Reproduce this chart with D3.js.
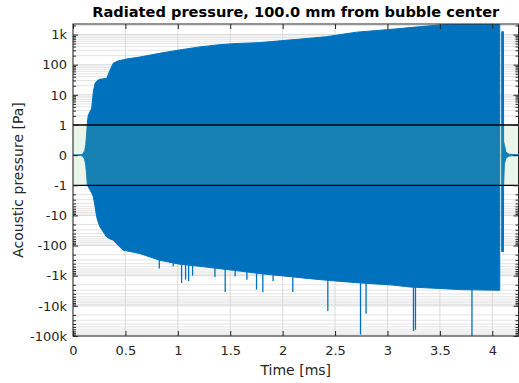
<!DOCTYPE html>
<html>
<head>
<meta charset="utf-8">
<script src="https://cdn.jsdelivr.net/npm/d3@7"></script>
<style>
  body { margin: 0; background: #fff; }
  text { font-family: "DejaVu Sans", sans-serif; }
</style>
</head>
<body>
<svg id="chart" width="519" height="383"></svg>
<script>
// envelope of the (very dense) pressure oscillation
// null marks the short silent gap before the last pulse
var envTime  = [0, 0.07, 0.095, 0.112, 0.122, 0.13, 0.137, 0.146, 0.178, 0.194, 0.21, 0.226, 0.241, 0.257,
                0.321, 0.353, 0.384, 0.432, 0.48, 0.512, 0.639, 0.829, 1.02, 1.211, 1.37, 1.528, 1.783,
                2.259, 2.418, 2.705, 3.053, 3.213, 3.499, 3.689, 4.071,
                4.08,
                4.09, 4.106, 4.108, 4.115, 4.13, 4.16, 4.25];
var envUpper = [0.005, 0.01, 0.04, 0.15, 0.35, 0.7, 1.2, 2.1, 3.6, 12.6, 24, 28, 31, 33,
                35, 66, 112, 135, 145, 155, 180, 240, 310, 390, 450, 500, 540,
                755, 850, 1200, 1510, 1700, 2090, 2300, 2400,
                null,
                1250, 1250, 0.45, 0.35, 0.1, 0.03, 0.01];
var envLower = [-0.005, -0.01, -0.04, -0.15, -0.35, -0.65, -1.0, -1.13, -1.8, -2.4, -5, -11.2, -17, -24,
                -52, -60, -66, -100, -144, -150, -185, -309, -417, -490, -570, -660, -850,
                -1250, -1410, -1700, -2050, -2370, -2650, -2890, -3050,
                null,
                -160, -160, -1.05, -0.3, -0.1, -0.03, -0.01];

// isolated negative spikes below the envelope
var spikeTime  = [0.823, 0.956, 1.036, 1.074, 1.103, 1.141, 1.354, 1.452, 1.547, 1.659, 1.751, 1.811,
                  1.909, 2.097, 2.431, 2.743, 2.796, 3.248, 3.267, 3.806];
var spikeValue = [-580, -490, -1740, -1350, -1510, -1000, -1100, -3470, -1050, -1350, -2880, -3470,
                  -1510, -3470, -14800, -89000, -18200, -69000, -62000, -120000];

var xTicks = [0, 0.5, 1, 1.5, 2, 2.5, 3, 3.5, 4];
var xTickLabels = ["0", "0.5", "1", "1.5", "2", "2.5", "3", "3.5", "4"];
var yTickValues = [1000, 100, 10, 1, 0, -1, -10, -100, -1000, -10000, -100000];
var yTickLabels = ["1k", "100", "10", "1", "0", "-1", "-10", "-100", "-1k", "-10k", "-100k"];

var titleText = "Radiated pressure, 100.0 mm from bubble center";
var xLabel = "Time [ms]";
var yLabel = "Acoustic pressure [Pa]";

// layout
var plotLeft = 73, plotRight = 518.5, plotTop = 24, plotBottom = 336;
var blue = "#0072bd";
var ink = "#262626";

var svg = d3.select("#chart");

// log outside [-1,1], linear inside
var tf = function (v) {
    return Math.abs(v) <= 1 ? v : Math.sign(v) * (1 + Math.log10(Math.abs(v)));
};

var x = d3.scaleLinear().domain([0, 4.25]).range([plotLeft, plotRight]);
var yT = d3.scaleLinear().domain([-6, 4.35]).range([plotBottom, plotTop]);
var y = function (v) { return yT(tf(v)); };

// minor tick values (2..9 per decade)
var minor = [];
for (var k = 0; k <= 4; k++) {
    for (var m = 2; m <= 9; m++) {
        var v = m * Math.pow(10, k);
        if (tf(v) < 4.35) minor.push(v);
        minor.push(-v);
    }
}

svg.append("defs").append("clipPath").attr("id", "clip")
    .append("rect")
    .attr("x", plotLeft).attr("y", plotTop)
    .attr("width", plotRight - plotLeft).attr("height", plotBottom - plotTop);

// grid
var grid = svg.append("g");
grid.selectAll(".gm").data(minor).enter().append("line")
    .attr("x1", plotLeft).attr("x2", plotRight)
    .attr("y1", function (d) { return y(d); })
    .attr("y2", function (d) { return y(d); })
    .attr("stroke", "#e4e4e4").attr("stroke-width", 1);
grid.selectAll(".gy").data(yTickValues).enter().append("line")
    .attr("x1", plotLeft).attr("x2", plotRight)
    .attr("y1", function (d) { return y(d); })
    .attr("y2", function (d) { return y(d); })
    .attr("stroke", "#dadada").attr("stroke-width", 1);
grid.selectAll(".gx").data(xTicks).enter().append("line")
    .attr("y1", plotTop).attr("y2", plotBottom)
    .attr("x1", function (d) { return x(d); })
    .attr("x2", function (d) { return x(d); })
    .attr("stroke", "#dadada").attr("stroke-width", 1);

var plot = svg.append("g").attr("clip-path", "url(#clip)");

var env = envTime.map(function (t, i) {
    return { t: t, hi: envUpper[i], lo: envLower[i] };
});

var area = d3.area()
    .defined(function (d) { return d.hi !== null; })
    .x(function (d) { return x(d.t); })
    .y0(function (d) { return y(d.lo); })
    .y1(function (d) { return y(d.hi); });

plot.append("path")
    .attr("d", area(env))
    .attr("fill", blue)
    .attr("stroke", blue)
    .attr("stroke-width", 1);

plot.selectAll(".spike").data(spikeTime).enter().append("line")
    .attr("x1", function (d) { return x(d); })
    .attr("x2", function (d) { return x(d); })
    .attr("y1", y(0))
    .attr("y2", function (d, i) { return y(spikeValue[i]); })
    .attr("stroke", blue).attr("stroke-width", 1.3);

// linear region band
plot.append("rect")
    .attr("x", plotLeft).attr("width", plotRight - plotLeft)
    .attr("y", y(1)).attr("height", y(-1) - y(1))
    .attr("fill", "rgb(128,204,128)").attr("fill-opacity", 0.17);

[1, -1].forEach(function (v) {
    plot.append("line")
        .attr("x1", plotLeft).attr("x2", plotRight)
        .attr("y1", y(v)).attr("y2", y(v))
        .attr("stroke", "#000").attr("stroke-width", 1.3);
});

// axes
var styleAxis = function (g) {
    g.select(".domain").remove();
    g.selectAll(".tick line").attr("stroke", ink);
    g.selectAll("text").attr("fill", ink).style("font-size", "13px");
};

svg.append("g").attr("transform", "translate(" + plotLeft + ",0)")
    .call(d3.axisLeft(yT).tickValues(yTickValues.map(tf)).tickSize(-5).tickPadding(6)
        .tickFormat(function (d, i) { return yTickLabels[i]; }))
    .call(styleAxis);
svg.append("g").attr("transform", "translate(" + plotRight + ",0)")
    .call(d3.axisRight(yT).tickValues(yTickValues.map(tf)).tickSize(-5).tickFormat(""))
    .call(styleAxis);
svg.append("g").attr("transform", "translate(" + plotLeft + ",0)")
    .call(d3.axisLeft(yT).tickValues(minor.map(tf)).tickSize(-3).tickFormat(""))
    .call(styleAxis);
svg.append("g").attr("transform", "translate(" + plotRight + ",0)")
    .call(d3.axisRight(yT).tickValues(minor.map(tf)).tickSize(-3).tickFormat(""))
    .call(styleAxis);
svg.append("g").attr("transform", "translate(0," + plotBottom + ")")
    .call(d3.axisBottom(x).tickValues(xTicks).tickSize(-5).tickPadding(10)
        .tickFormat(function (d, i) { return xTickLabels[i]; }))
    .call(styleAxis);
svg.append("g").attr("transform", "translate(0," + plotTop + ")")
    .call(d3.axisTop(x).tickValues(xTicks).tickSize(-5).tickFormat(""))
    .call(styleAxis);

// box
svg.append("rect")
    .attr("x", plotLeft).attr("y", plotTop)
    .attr("width", plotRight - plotLeft).attr("height", plotBottom - plotTop)
    .attr("fill", "none").attr("stroke", ink).attr("stroke-width", 1);

// labels
svg.append("text")
    .attr("x", (plotLeft + plotRight) / 2).attr("y", 17)
    .attr("text-anchor", "middle")
    .attr("font-weight", "bold").attr("font-size", 14.6)
    .attr("fill", "#000")
    .text(titleText);

svg.append("text")
    .attr("x", (plotLeft + plotRight) / 2).attr("y", 375)
    .attr("text-anchor", "middle")
    .attr("font-size", 14).attr("fill", ink)
    .text(xLabel);

svg.append("text")
    .attr("transform", "translate(23," + (plotTop + plotBottom) / 2 + ") rotate(-90)")
    .attr("text-anchor", "middle")
    .attr("font-size", 14).attr("fill", ink)
    .text(yLabel);
</script>
</body>
</html>
